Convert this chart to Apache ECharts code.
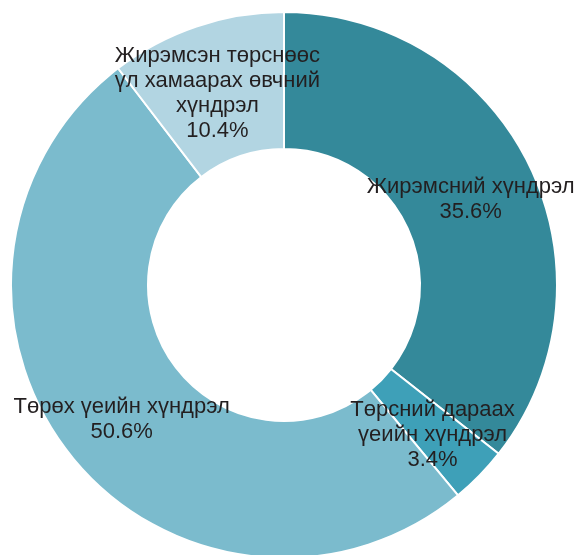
<!DOCTYPE html>
<html><head><meta charset="utf-8">
<script src="https://cdn.jsdelivr.net/npm/echarts@6/dist/echarts.min.js"></script>
<style>html,body{margin:0;padding:0;background:#fff}#c{width:576px;height:555px}</style>
</head><body><div id="c"></div>
<script>
const categories = ["Жирэмсний хүндрэл", "Төрсний дараах\nүеийн хүндрэл", "Төрөх үеийн хүндрэл", "Жирэмсэн төрснөөс\nүл хамаарах өвчний\nхүндрэл"];
const values = [35.6, 3.4, 50.6, 10.4];
const colors = ["#34899a", "#3ea0b8", "#7bbbcd", "#b2d5e2"];

const chart = echarts.init(document.getElementById('c'));
chart.setOption({
  animation: false,
  series: [{
    type: 'pie',
    center: [284, 285],
    radius: [136, 273],
    startAngle: 90,
    clockwise: true,
    data: categories.map((n, i) => ({name: n, value: values[i], itemStyle: {color: colors[i]}})),
    itemStyle: {borderColor: '#fff', borderWidth: 2},
    label: {
      show: true,
      position: 'inside',
      formatter: p => p.name + '\n' + p.value.toFixed(1) + '%',
      fontFamily: 'Liberation Sans, Arial, sans-serif',
      fontSize: 22,
      lineHeight: 25,
      color: '#231f20',
      align: 'center',
      offset: [0, 5]
    },
    labelLine: {show: false},
    emphasis: {disabled: true}
  }]
});
</script></body></html>
